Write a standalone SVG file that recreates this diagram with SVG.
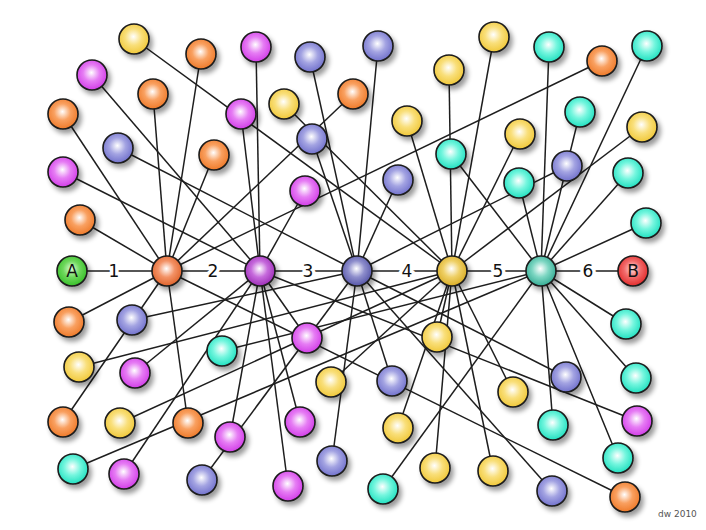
<svg xmlns="http://www.w3.org/2000/svg" width="706" height="530" viewBox="0 0 706 530">
<defs>
<filter id="sh" x="-50%" y="-50%" width="200%" height="200%">
<feGaussianBlur in="SourceAlpha" stdDeviation="2.5"/>
<feOffset dx="3" dy="4" result="b"/>
<feComponentTransfer><feFuncA type="linear" slope="0.4"/></feComponentTransfer>
<feMerge><feMergeNode/><feMergeNode in="SourceGraphic"/></feMerge>
</filter>
<radialGradient id="gO" cx="0.48" cy="0.45" r="0.55" fx="0.48" fy="0.42"><stop offset="0" stop-color="#fff"/><stop offset="0.5" stop-color="#f9a060"/><stop offset="1" stop-color="#ee7a2a"/></radialGradient>
<radialGradient id="gP" cx="0.48" cy="0.45" r="0.55" fx="0.48" fy="0.42"><stop offset="0" stop-color="#fff"/><stop offset="0.5" stop-color="#e67cf4"/><stop offset="1" stop-color="#d23ee8"/></radialGradient>
<radialGradient id="gY" cx="0.48" cy="0.45" r="0.55" fx="0.48" fy="0.42"><stop offset="0" stop-color="#fff"/><stop offset="0.5" stop-color="#f9df7a"/><stop offset="1" stop-color="#f0c83a"/></radialGradient>
<radialGradient id="gB" cx="0.48" cy="0.45" r="0.55" fx="0.48" fy="0.42"><stop offset="0" stop-color="#fff"/><stop offset="0.5" stop-color="#a3a3e2"/><stop offset="1" stop-color="#7272cc"/></radialGradient>
<radialGradient id="gT" cx="0.48" cy="0.45" r="0.55" fx="0.48" fy="0.42"><stop offset="0" stop-color="#fff"/><stop offset="0.5" stop-color="#74f6de"/><stop offset="1" stop-color="#22e0c0"/></radialGradient>
<radialGradient id="gG" cx="0.48" cy="0.45" r="0.55" fx="0.48" fy="0.42"><stop offset="0" stop-color="#dfffd8"/><stop offset="0.5" stop-color="#6ed85c"/><stop offset="1" stop-color="#38c02a"/></radialGradient>
<radialGradient id="gR" cx="0.48" cy="0.45" r="0.55" fx="0.48" fy="0.42"><stop offset="0" stop-color="#ffe0e0"/><stop offset="0.5" stop-color="#f26a6a"/><stop offset="1" stop-color="#e22c2c"/></radialGradient>
<radialGradient id="h1" cx="0.48" cy="0.45" r="0.55" fx="0.48" fy="0.42"><stop offset="0" stop-color="#fff"/><stop offset="0.5" stop-color="#f39266"/><stop offset="1" stop-color="#df642c"/></radialGradient>
<radialGradient id="h2" cx="0.48" cy="0.45" r="0.55" fx="0.48" fy="0.42"><stop offset="0" stop-color="#fff"/><stop offset="0.5" stop-color="#c66adc"/><stop offset="1" stop-color="#9e2eb8"/></radialGradient>
<radialGradient id="h3" cx="0.48" cy="0.45" r="0.55" fx="0.48" fy="0.42"><stop offset="0" stop-color="#fff"/><stop offset="0.5" stop-color="#8e8ecc"/><stop offset="1" stop-color="#5656a8"/></radialGradient>
<radialGradient id="h4" cx="0.48" cy="0.45" r="0.55" fx="0.48" fy="0.42"><stop offset="0" stop-color="#fff"/><stop offset="0.5" stop-color="#efd066"/><stop offset="1" stop-color="#d9ad26"/></radialGradient>
<radialGradient id="h5" cx="0.48" cy="0.45" r="0.55" fx="0.48" fy="0.42"><stop offset="0" stop-color="#fff"/><stop offset="0.5" stop-color="#7cd6c2"/><stop offset="1" stop-color="#35ac94"/></radialGradient>
</defs>
<style>
.e line{stroke:#1e1e1e;stroke-width:1.5}
circle{stroke:#1a1a1a;stroke-width:1.6;filter:url(#sh)}
.o{fill:url(#gO)}.p{fill:url(#gP)}.y{fill:url(#gY)}.b{fill:url(#gB)}.t{fill:url(#gT)}
.lbl{font-family:"DejaVu Sans",sans-serif;font-size:17px;fill:#111;text-anchor:middle;stroke:#fff;stroke-width:7px;paint-order:stroke;stroke-linejoin:round}
.nl{font-family:"DejaVu Sans",sans-serif;font-size:17px;fill:#111;text-anchor:middle}
.dw{font-family:"DejaVu Sans",sans-serif;font-size:9px;fill:#555}
</style>
<rect width="706" height="530" fill="#fff"/>
<g id="connectors" class="e">
<line x1="72" y1="271" x2="633" y2="271"/>
<line x1="167" y1="271" x2="201" y2="54"/>
<line x1="167" y1="271" x2="153" y2="94"/>
<line x1="167" y1="271" x2="63" y2="114"/>
<line x1="167" y1="271" x2="214" y2="155"/>
<line x1="167" y1="271" x2="80" y2="220"/>
<line x1="167" y1="271" x2="353" y2="94"/>
<line x1="167" y1="271" x2="602" y2="61"/>
<line x1="167" y1="271" x2="69" y2="322"/>
<line x1="167" y1="271" x2="63" y2="422"/>
<line x1="167" y1="271" x2="188" y2="423"/>
<line x1="167" y1="271" x2="625" y2="497"/>
<line x1="260" y1="271" x2="256" y2="47"/>
<line x1="260" y1="271" x2="92" y2="75"/>
<line x1="260" y1="271" x2="241" y2="114"/>
<line x1="260" y1="271" x2="63" y2="172"/>
<line x1="260" y1="271" x2="305" y2="191"/>
<line x1="260" y1="271" x2="307" y2="338"/>
<line x1="260" y1="271" x2="135" y2="373"/>
<line x1="260" y1="271" x2="230" y2="437"/>
<line x1="260" y1="271" x2="300" y2="422"/>
<line x1="260" y1="271" x2="124" y2="474"/>
<line x1="260" y1="271" x2="288" y2="486"/>
<line x1="260" y1="271" x2="637" y2="421"/>
<line x1="357" y1="271" x2="310" y2="57"/>
<line x1="357" y1="271" x2="378" y2="46"/>
<line x1="357" y1="271" x2="118" y2="148"/>
<line x1="357" y1="271" x2="312" y2="139"/>
<line x1="357" y1="271" x2="398" y2="180"/>
<line x1="357" y1="271" x2="567" y2="166"/>
<line x1="357" y1="271" x2="132" y2="320"/>
<line x1="357" y1="271" x2="392" y2="381"/>
<line x1="357" y1="271" x2="566" y2="377"/>
<line x1="357" y1="271" x2="332" y2="461"/>
<line x1="357" y1="271" x2="202" y2="480"/>
<line x1="357" y1="271" x2="552" y2="491"/>
<line x1="452" y1="271" x2="134" y2="39"/>
<line x1="452" y1="271" x2="494" y2="37"/>
<line x1="452" y1="271" x2="449" y2="70"/>
<line x1="452" y1="271" x2="284" y2="104"/>
<line x1="452" y1="271" x2="407" y2="121"/>
<line x1="452" y1="271" x2="520" y2="134"/>
<line x1="452" y1="271" x2="642" y2="127"/>
<line x1="452" y1="271" x2="437" y2="337"/>
<line x1="452" y1="271" x2="79" y2="367"/>
<line x1="452" y1="271" x2="331" y2="382"/>
<line x1="452" y1="271" x2="513" y2="392"/>
<line x1="452" y1="271" x2="120" y2="423"/>
<line x1="452" y1="271" x2="398" y2="428"/>
<line x1="452" y1="271" x2="435" y2="468"/>
<line x1="452" y1="271" x2="493" y2="471"/>
<line x1="541" y1="271" x2="549" y2="47"/>
<line x1="541" y1="271" x2="647" y2="46"/>
<line x1="541" y1="271" x2="580" y2="112"/>
<line x1="541" y1="271" x2="451" y2="154"/>
<line x1="541" y1="271" x2="519" y2="183"/>
<line x1="541" y1="271" x2="628" y2="173"/>
<line x1="541" y1="271" x2="646" y2="223"/>
<line x1="541" y1="271" x2="626" y2="324"/>
<line x1="541" y1="271" x2="222" y2="351"/>
<line x1="541" y1="271" x2="636" y2="378"/>
<line x1="541" y1="271" x2="553" y2="425"/>
<line x1="541" y1="271" x2="73" y2="469"/>
<line x1="541" y1="271" x2="618" y2="458"/>
<line x1="541" y1="271" x2="383" y2="489"/>
</g>
<g id="labels">
<text class="lbl" x="114" y="277">1</text>
<text class="lbl" x="213" y="277">2</text>
<text class="lbl" x="308" y="277">3</text>
<text class="lbl" x="407" y="277">4</text>
<text class="lbl" x="498" y="277">5</text>
<text class="lbl" x="588" y="277">6</text>
</g>
<g id="peripheral">
<g id="o1"><circle class="o" cx="201" cy="54" r="15"/></g>
<g id="o2"><circle class="o" cx="153" cy="94" r="15"/></g>
<g id="o3"><circle class="o" cx="63" cy="114" r="15"/></g>
<g id="o4"><circle class="o" cx="214" cy="155" r="15"/></g>
<g id="o5"><circle class="o" cx="80" cy="220" r="15"/></g>
<g id="o6"><circle class="o" cx="353" cy="94" r="15"/></g>
<g id="o7"><circle class="o" cx="602" cy="61" r="15"/></g>
<g id="o8"><circle class="o" cx="69" cy="322" r="15"/></g>
<g id="o9"><circle class="o" cx="63" cy="422" r="15"/></g>
<g id="o10"><circle class="o" cx="188" cy="423" r="15"/></g>
<g id="o11"><circle class="o" cx="625" cy="497" r="15"/></g>
<g id="p1"><circle class="p" cx="256" cy="47" r="15"/></g>
<g id="p2"><circle class="p" cx="92" cy="75" r="15"/></g>
<g id="p3"><circle class="p" cx="241" cy="114" r="15"/></g>
<g id="p4"><circle class="p" cx="63" cy="172" r="15"/></g>
<g id="p5"><circle class="p" cx="305" cy="191" r="15"/></g>
<g id="p6"><circle class="p" cx="307" cy="338" r="15"/></g>
<g id="p7"><circle class="p" cx="135" cy="373" r="15"/></g>
<g id="p8"><circle class="p" cx="230" cy="437" r="15"/></g>
<g id="p9"><circle class="p" cx="300" cy="422" r="15"/></g>
<g id="p10"><circle class="p" cx="124" cy="474" r="15"/></g>
<g id="p11"><circle class="p" cx="288" cy="486" r="15"/></g>
<g id="p12"><circle class="p" cx="637" cy="421" r="15"/></g>
<g id="b1"><circle class="b" cx="310" cy="57" r="15"/></g>
<g id="b2"><circle class="b" cx="378" cy="46" r="15"/></g>
<g id="b3"><circle class="b" cx="118" cy="148" r="15"/></g>
<g id="b4"><circle class="b" cx="312" cy="139" r="15"/></g>
<g id="b5"><circle class="b" cx="398" cy="180" r="15"/></g>
<g id="b6"><circle class="b" cx="567" cy="166" r="15"/></g>
<g id="b7"><circle class="b" cx="132" cy="320" r="15"/></g>
<g id="b8"><circle class="b" cx="392" cy="381" r="15"/></g>
<g id="b9"><circle class="b" cx="566" cy="377" r="15"/></g>
<g id="b10"><circle class="b" cx="332" cy="461" r="15"/></g>
<g id="b11"><circle class="b" cx="202" cy="480" r="15"/></g>
<g id="b12"><circle class="b" cx="552" cy="491" r="15"/></g>
<g id="y1"><circle class="y" cx="134" cy="39" r="15"/></g>
<g id="y2"><circle class="y" cx="494" cy="37" r="15"/></g>
<g id="y3"><circle class="y" cx="449" cy="70" r="15"/></g>
<g id="y4"><circle class="y" cx="284" cy="104" r="15"/></g>
<g id="y5"><circle class="y" cx="407" cy="121" r="15"/></g>
<g id="y6"><circle class="y" cx="520" cy="134" r="15"/></g>
<g id="y7"><circle class="y" cx="642" cy="127" r="15"/></g>
<g id="y8"><circle class="y" cx="437" cy="337" r="15"/></g>
<g id="y9"><circle class="y" cx="79" cy="367" r="15"/></g>
<g id="y10"><circle class="y" cx="331" cy="382" r="15"/></g>
<g id="y11"><circle class="y" cx="513" cy="392" r="15"/></g>
<g id="y12"><circle class="y" cx="120" cy="423" r="15"/></g>
<g id="y13"><circle class="y" cx="398" cy="428" r="15"/></g>
<g id="y14"><circle class="y" cx="435" cy="468" r="15"/></g>
<g id="y15"><circle class="y" cx="493" cy="471" r="15"/></g>
<g id="t1"><circle class="t" cx="549" cy="47" r="15"/></g>
<g id="t2"><circle class="t" cx="647" cy="46" r="15"/></g>
<g id="t3"><circle class="t" cx="580" cy="112" r="15"/></g>
<g id="t4"><circle class="t" cx="451" cy="154" r="15"/></g>
<g id="t5"><circle class="t" cx="519" cy="183" r="15"/></g>
<g id="t6"><circle class="t" cx="628" cy="173" r="15"/></g>
<g id="t7"><circle class="t" cx="646" cy="223" r="15"/></g>
<g id="t8"><circle class="t" cx="626" cy="324" r="15"/></g>
<g id="t9"><circle class="t" cx="222" cy="351" r="15"/></g>
<g id="t10"><circle class="t" cx="636" cy="378" r="15"/></g>
<g id="t11"><circle class="t" cx="553" cy="425" r="15"/></g>
<g id="t12"><circle class="t" cx="73" cy="469" r="15"/></g>
<g id="t13"><circle class="t" cx="618" cy="458" r="15"/></g>
<g id="t14"><circle class="t" cx="383" cy="489" r="15"/></g>
</g>
<g id="hubs">
<g id="nodeA"><circle fill="url(#gG)" cx="72" cy="271" r="15"/><text class="nl" x="72" y="277">A</text></g>
<g id="hub1"><circle fill="url(#h1)" cx="167" cy="271" r="15"/></g>
<g id="hub2"><circle fill="url(#h2)" cx="260" cy="271" r="15"/></g>
<g id="hub3"><circle fill="url(#h3)" cx="357" cy="271" r="15"/></g>
<g id="hub4"><circle fill="url(#h4)" cx="452" cy="271" r="15"/></g>
<g id="hub5"><circle fill="url(#h5)" cx="541" cy="271" r="15"/></g>
<g id="nodeB"><circle fill="url(#gR)" cx="633" cy="271" r="15"/><text class="nl" x="633" y="277">B</text></g>
</g>
<text class="dw" x="658" y="517">dw 2010</text>
</svg>
